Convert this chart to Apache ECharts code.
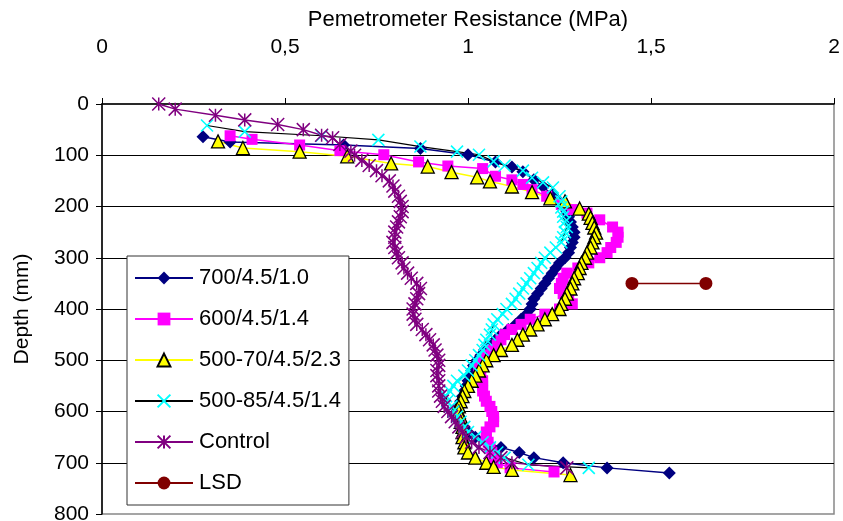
<!DOCTYPE html>
<html>
<head>
<meta charset="utf-8">
<script src="https://cdn.jsdelivr.net/npm/echarts@6/dist/echarts.min.js"></script>
<style>
html,body{margin:0;padding:0;background:#fff;}
#c{width:843px;height:521px;}
</style>
</head>
<body>
<div id="c"></div>
<script>
// ---- data ----
const xTicks = ['0', '0,5', '1', '1,5', '2'];
const seriesNames = ['700/4.5/1.0', '600/4.5/1.4', '500-70/4.5/2.3', '500-85/4.5/1.4', 'Control', 'LSD'];

const depth700 = [64,74,80,87,99,113,123,132,148,161,177,190,200,210,220,230,240,250,260,270,280,290,300,310,320,330,340,350,360,370,380,390,400,410,420,430,440,450,460,470,480,490,500,510,520,530,540,550,560,570,580,590,600,610,620,630,640,650,660,670,680,690,700,710,720];
const res700 = [0.276,0.35,0.66,0.87,1.0,1.075,1.12,1.15,1.18,1.205,1.23,1.25,1.26,1.27,1.275,1.28,1.285,1.29,1.29,1.285,1.28,1.275,1.265,1.25,1.24,1.23,1.22,1.21,1.2,1.19,1.18,1.175,1.17,1.16,1.145,1.13,1.11,1.09,1.075,1.06,1.045,1.035,1.025,1.015,1.01,1.005,1.0,0.995,0.99,0.985,0.98,0.975,0.975,0.975,0.98,0.99,1.0,1.02,1.05,1.09,1.14,1.18,1.26,1.38,1.55];

const depth600 = [62,69,80,91,99,113,121,126,141,148,157,167,180,196,206,213,226,240,250,260,270,280,290,300,310,320,330,340,350,360,370,380,390,400,410,420,430,440,450,460,470,480,490,500,510,520,530,540,550,560,570,580,590,600,610,620,630,640,650,660,670,680,690,700,710,718];
const res600 = [0.35,0.41,0.54,0.65,0.77,0.865,0.945,1.04,1.075,1.12,1.15,1.175,1.215,1.255,1.285,1.325,1.36,1.395,1.41,1.41,1.405,1.39,1.38,1.36,1.33,1.30,1.27,1.26,1.255,1.25,1.26,1.275,1.285,1.25,1.21,1.17,1.145,1.12,1.10,1.09,1.08,1.065,1.05,1.04,1.03,1.03,1.035,1.04,1.04,1.04,1.045,1.05,1.06,1.065,1.07,1.07,1.06,1.05,1.05,1.055,1.06,1.065,1.07,1.08,1.115,1.235];

const depth500a = [73,86,93,102,116,122,133,143,151,161,172,184,190,204,214,222,232,241,251,260,270,280,290,300,310,320,330,340,350,360,370,380,390,400,410,420,430,440,450,460,470,480,490,500,510,520,530,540,550,560,570,580,590,600,610,620,630,640,650,660,670,680,690,700,708,714,724];
const res500a = [0.317,0.385,0.54,0.67,0.79,0.89,0.955,1.025,1.06,1.12,1.175,1.225,1.265,1.305,1.33,1.335,1.34,1.345,1.35,1.345,1.34,1.335,1.325,1.32,1.31,1.305,1.30,1.29,1.285,1.28,1.27,1.265,1.255,1.25,1.23,1.21,1.19,1.17,1.15,1.135,1.12,1.09,1.07,1.05,1.04,1.03,1.02,1.01,1.0,0.99,0.985,0.98,0.975,0.975,0.98,0.98,0.985,0.985,0.985,0.99,0.99,1.0,1.02,1.05,1.07,1.12,1.28];

const depth500b = [42,54,62,70,83,93,99,112,120,130,144,153,163,180,190,202,210,220,230,240,250,260,270,280,290,300,310,320,330,340,350,360,370,380,390,400,410,420,430,440,450,460,470,480,490,500,510,520,530,540,550,560,570,580,590,600,610,620,630,640,650,660,670,680,690,704,710];
const res500b = [0.287,0.39,0.60,0.755,0.87,0.97,1.03,1.07,1.10,1.15,1.175,1.205,1.232,1.25,1.255,1.255,1.26,1.26,1.265,1.27,1.265,1.26,1.255,1.24,1.225,1.21,1.2,1.19,1.18,1.17,1.16,1.15,1.14,1.13,1.12,1.105,1.095,1.08,1.07,1.065,1.06,1.05,1.045,1.04,1.03,1.02,1.01,1.0,0.99,0.97,0.96,0.95,0.94,0.943,0.955,0.96,0.97,0.98,0.99,1.0,1.02,1.04,1.06,1.08,1.1,1.165,1.33];

const depthCtl = [0,10,22,31,40,50,61,66,79,92,100,110,120,130,140,150,160,170,180,190,200,210,220,230,240,250,260,270,280,290,300,310,320,330,340,350,360,370,380,390,400,410,420,430,440,450,460,470,480,490,500,510,520,530,540,550,560,570,580,590,600,610,620,630,640,650,660,670,680,690,700,710];
const resCtl = [0.155,0.20,0.31,0.39,0.48,0.55,0.60,0.63,0.65,0.68,0.69,0.71,0.73,0.75,0.765,0.785,0.795,0.80,0.81,0.815,0.82,0.82,0.815,0.81,0.805,0.80,0.80,0.795,0.80,0.805,0.81,0.82,0.825,0.835,0.845,0.86,0.87,0.865,0.86,0.855,0.85,0.85,0.855,0.86,0.875,0.885,0.895,0.905,0.91,0.915,0.92,0.92,0.915,0.915,0.92,0.92,0.92,0.925,0.93,0.935,0.945,0.955,0.965,0.975,0.985,0.995,1.01,1.03,1.06,1.09,1.12,1.27];

const depthLSD = [350, 350];
const resLSD = [1.448, 1.65];

// ---- chart ----
const pairs = (d, v) => d.map((dd, i) => [v[i], dd]);
const FONT = 'Liberation Sans, Arial, sans-serif';
const X_PATH = 'path://M0,0L10,10M10,0L0,10';
const STAR_PATH = 'path://M0,0L10,10M10,0L0,10M5,0L5,10';

const chart = echarts.init(document.getElementById('c'), null, {renderer: 'canvas'});
const base = {type: 'line', animation: false, smooth: false, z: 3};
chart.setOption({
  animation: false,
  backgroundColor: '#fff',
  textStyle: {fontFamily: FONT, color: '#000'},
  grid: {left: 102, right: 9, top: 104, bottom: 7, containLabel: false, outerBoundsMode: 'none',
    show: true, borderColor: '#888', borderWidth: 1.5, backgroundColor: 'transparent'},
  legend: {
    left: 127, top: 256, orient: 'vertical',
    backgroundColor: '#fff', borderColor: '#333', borderWidth: 1,
    padding: [11, 8, 11, 7], itemGap: 19, itemWidth: 58, itemHeight: 16,
    textStyle: {fontFamily: FONT, fontSize: 22, color: '#000', padding: [0,0,0,1]},
    data: seriesNames
  },
  xAxis: {
    type: 'value', position: 'top', min: 0, max: 2, interval: 0.5,
    name: 'Pemetrometer Resistance (MPa)', nameLocation: 'middle', nameGap: 73,
    nameTextStyle: {fontFamily: FONT, fontSize: 22, color: '#000'},
    axisLine: {show: true, lineStyle: {color: '#000', width: 1.5}},
    axisTick: {show: true, inside: false, length: 6, lineStyle: {color: '#000'}},
    axisLabel: {fontFamily: FONT, fontSize: 21, color: '#000', margin: 46,
      formatter: (v) => xTicks[Math.round(v / 0.5)]},
    splitLine: {show: false}
  },
  yAxis: {
    type: 'value', inverse: true, min: 0, max: 800, interval: 100,
    name: 'Depth (mm)', nameLocation: 'middle', nameGap: 69, nameRotate: 90,
    nameTextStyle: {fontFamily: FONT, fontSize: 21, color: '#000'},
    axisLine: {show: true, lineStyle: {color: '#000', width: 1.5}},
    axisTick: {show: true, inside: false, length: 6, lineStyle: {color: '#000'}},
    axisLabel: {fontFamily: FONT, fontSize: 21, color: '#000', margin: 13},
    splitLine: {show: true, showMinLine: false, showMaxLine: false, lineStyle: {color: '#000', width: 1.2}}
  },
  series: [
    Object.assign({}, base, {name: seriesNames[0], data: pairs(depth700, res700),
      symbol: 'diamond', symbolSize: 13,
      lineStyle: {color: '#000080', width: 1.5},
      itemStyle: {color: '#000080', borderWidth: 0}}),
    Object.assign({}, base, {name: seriesNames[1], data: pairs(depth600, res600),
      symbol: 'rect', symbolSize: 11,
      lineStyle: {color: '#FF00FF', width: 1.5},
      itemStyle: {color: '#FF00FF', borderWidth: 0}}),
    Object.assign({}, base, {name: seriesNames[2], data: pairs(depth500a, res500a),
      symbol: 'triangle', symbolSize: 13,
      lineStyle: {color: '#FFFF00', width: 1.5},
      itemStyle: {color: '#FFFF00', borderColor: '#000', borderWidth: 1.3}}),
    Object.assign({}, base, {name: seriesNames[3], data: pairs(depth500b, res500b),
      symbol: X_PATH, symbolSize: 12,
      lineStyle: {color: '#000', width: 1.2},
      itemStyle: {color: '#00FFFF', borderColor: '#00FFFF', borderWidth: 1.6}}),
    Object.assign({}, base, {name: seriesNames[4], data: pairs(depthCtl, resCtl),
      symbol: STAR_PATH, symbolSize: 13,
      lineStyle: {color: '#800080', width: 1.5},
      itemStyle: {color: '#800080', borderColor: '#800080', borderWidth: 1.5}}),
    Object.assign({}, base, {name: seriesNames[5], data: pairs(depthLSD, resLSD),
      symbol: 'circle', symbolSize: 13,
      lineStyle: {color: '#800000', width: 1.5},
      itemStyle: {color: '#800000', borderWidth: 0}})
  ]
});
</script>
</body>
</html>
